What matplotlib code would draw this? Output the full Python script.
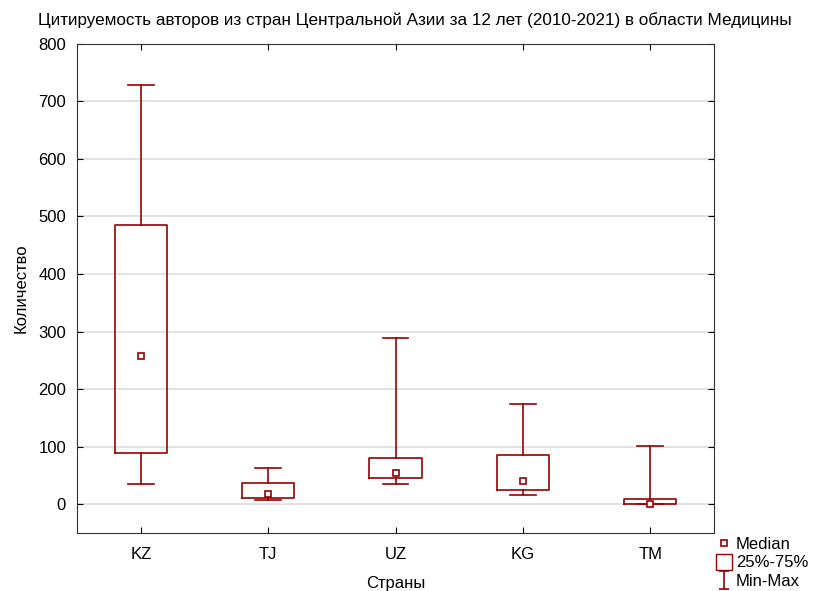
import matplotlib.pyplot as plt
from matplotlib.lines import Line2D
from matplotlib.path import Path

plt.rcParams['font.family'] = ['Liberation Sans', 'DejaVu Sans']

# Data
countries = ["KZ", "TJ", "UZ", "KG", "TM"]
minimum = [35, 7, 35, 16, 0]
q1 = [89, 11, 46, 25, 0]
median = [257, 18, 54, 41, 0]
q3 = [485, 37, 81, 86, 9]
maximum = [729, 63, 288, 174, 102]

color = '#990000'

fig = plt.figure(figsize=(8.13, 5.91), dpi=100)
ax = fig.add_axes([0.095, 0.098, 0.783, 0.828])

stats = []
for i, name in enumerate(countries):
    stats.append(dict(label=name, whislo=minimum[i], q1=q1[i], med=median[i],
                      q3=q3[i], whishi=maximum[i], mean=median[i]))

ax.bxp(stats, positions=range(1, len(countries) + 1), widths=0.41, capwidths=0.2,
       showmeans=True, meanline=False, showfliers=False,
       boxprops=dict(color=color, linewidth=1.2),
       whiskerprops=dict(color=color, linewidth=1.2),
       capprops=dict(color=color, linewidth=1.2),
       medianprops=dict(linewidth=0),
       meanprops=dict(marker='s', markersize=5, markerfacecolor='white',
                      markeredgecolor=color, markeredgewidth=1.2),
       zorder=3)

ax.set_xlim(0.5, 5.5)
ax.set_ylim(-50, 800)
ax.set_yticks(range(0, 801, 100))
ax.grid(axis='y', color='#dddddd', linewidth=1.2, zorder=0)
ax.tick_params(direction='in', length=4, top=True, right=True, labelsize=12)
ax.tick_params(axis='x', pad=10)
ax.tick_params(axis='y', pad=8)
for s in ax.spines.values():
    s.set_color('#333333')

fig.text(415 / 813, 1 - 20 / 591,
         "Цитируемость авторов из стран Центральной Азии за 12 лет (2010-2021) в области Медицины",
         fontsize=12.3, ha='center', va='center')
ax.set_xlabel("Страны", fontsize=12, labelpad=10)
ax.set_ylabel("Количество", fontsize=12, labelpad=7)

# Min-Max symbol (I-beam)
ibeam = Path([(-0.5, 1), (0.5, 1), (0, 1), (0, -1), (-0.5, -1), (0.5, -1)],
             [Path.MOVETO, Path.LINETO, Path.MOVETO, Path.LINETO, Path.MOVETO, Path.LINETO])
handles = [
    Line2D([], [], linestyle='none', marker='s', markersize=5, markerfacecolor='white',
           markeredgecolor=color, markeredgewidth=1.2),
    Line2D([], [], linestyle='none', marker='s', markersize=12, markerfacecolor='white',
           markeredgecolor=color, markeredgewidth=1.0),
    Line2D([], [], linestyle='none', marker=ibeam, markersize=13, color=color,
           markeredgewidth=1.2),
]
fig.legend(handles, ["Median", "25%-75%", "Min-Max"], loc='lower left',
           bbox_to_anchor=(706 / 813, -0.013), frameon=False, fontsize=12,
           handlelength=1.0, handletextpad=0.2, labelspacing=0.2, borderpad=0.1)

fig.savefig("out.png", dpi=100)
